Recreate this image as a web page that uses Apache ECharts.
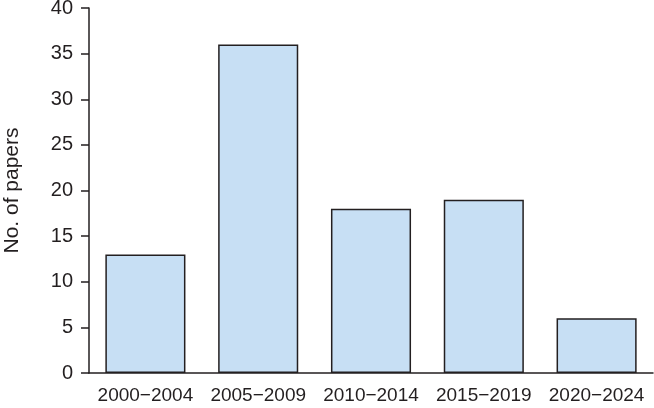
<!DOCTYPE html>
<html>
<head>
<meta charset="utf-8">
<script src="https://cdn.jsdelivr.net/npm/echarts@6/dist/echarts.min.js"></script>
<style>
  html, body { margin: 0; padding: 0; background: #fff; }
  #main { width: 654px; height: 408px; }
</style>
</head>
<body>
<div id="main"></div>
<script>
// 数据
var periods = ["2000\u22122004", "2005\u22122009", "2010\u22122014", "2015\u22122019", "2020\u22122024"];
var paperCounts = [13, 36, 18, 19, 6];
var yTicks = [0, 5, 10, 15, 20, 25, 30, 35, 40];

var inkColor = "#231f20";
var barColor = "#c7dff4";
var fontName = "Liberation Sans, Arial, sans-serif";

var myChart = echarts.init(document.getElementById("main"));

var option = {
  animation: false,
  grid: {
    left: 89,
    top: 8,
    width: 564,
    bottom: 35,
    containLabel: false,
    outerBoundsMode: "none",
  },
  xAxis: {
    type: "category",
    data: periods,
    axisLine: { lineStyle: { color: inkColor, width: 1.5 } },
    axisTick: { alignWithLabel: true, length: 6, lineStyle: { color: inkColor, width: 1.5 } },
    axisLabel: {
      interval: 0,
      hideOverlap: false,
      color: inkColor,
      fontFamily: fontName,
      fontSize: 19,
      margin: 13,
    },
  },
  yAxis: {
    type: "value",
    min: yTicks[0],
    max: yTicks[yTicks.length - 1],
    interval: 5,
    name: "No. of papers",
    nameLocation: "middle",
    nameGap: 66,
    nameTextStyle: {
      color: inkColor,
      fontFamily: fontName,
      fontSize: 21,
    },
    axisLine: { show: true, lineStyle: { color: inkColor, width: 1.5 } },
    axisTick: { show: true, length: 8, lineStyle: { color: inkColor, width: 1.5 } },
    axisLabel: {
      color: inkColor,
      fontFamily: fontName,
      fontSize: 20,
      margin: 16,
    },
    splitLine: { show: false },
  },
  series: [
    {
      type: "bar",
      data: paperCounts,
      barWidth: "71%",
      itemStyle: {
        color: barColor,
        borderColor: inkColor,
        borderWidth: 1.5,
      },
    },
  ],
};

myChart.setOption(option);
</script>
</body>
</html>
